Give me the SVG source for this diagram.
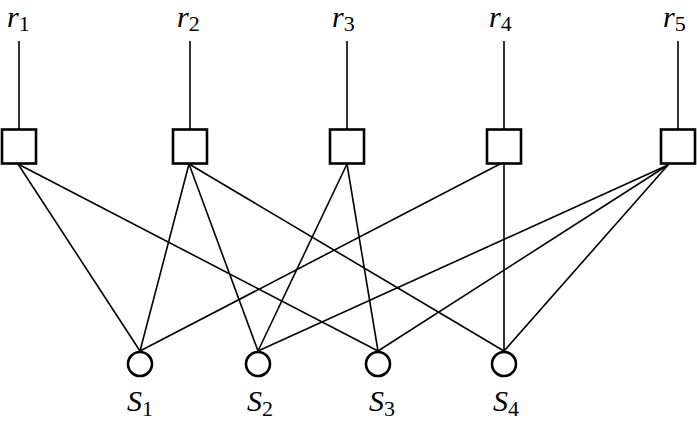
<svg xmlns="http://www.w3.org/2000/svg" width="697" height="423" viewBox="0 0 697 423">
<style>
.bg{fill:#fff}
.box{fill:#fff;stroke:#000;stroke-width:2.6}
.node{fill:#fff;stroke:#000;stroke-width:2.6}
.edge{stroke:#000;stroke-width:1.6;fill:none}
.lbl{font-family:"Liberation Serif","Times New Roman",serif;font-size:30px;fill:#000}
.v{font-style:italic}
.sub{font-size:22px}
</style>
<rect class="bg" x="0" y="0" width="697" height="423"/>
<g id="connectors">
<line class="edge" x1="19" y1="41" x2="19" y2="129"/>
<line class="edge" x1="190" y1="41" x2="190" y2="129"/>
<line class="edge" x1="347" y1="41" x2="347" y2="129"/>
<line class="edge" x1="504" y1="41" x2="504" y2="129"/>
<line class="edge" x1="678" y1="41" x2="678" y2="129"/>
<line class="edge" x1="18" y1="164" x2="140" y2="351"/>
<line class="edge" x1="18" y1="164" x2="378" y2="351"/>
<line class="edge" x1="189" y1="164" x2="140" y2="351"/>
<line class="edge" x1="189" y1="164" x2="258" y2="351"/>
<line class="edge" x1="189" y1="164" x2="504" y2="351"/>
<line class="edge" x1="347" y1="164" x2="258" y2="351"/>
<line class="edge" x1="347" y1="164" x2="378" y2="351"/>
<line class="edge" x1="500" y1="164" x2="140" y2="351"/>
<line class="edge" x1="504" y1="164" x2="504" y2="351"/>
<line class="edge" x1="668" y1="165" x2="258" y2="351"/>
<line class="edge" x1="668" y1="165" x2="378" y2="351"/>
<line class="edge" x1="668" y1="165" x2="504" y2="351"/>
</g>
<g id="r1"><rect class="box" x="2" y="129.5" width="34" height="34"/><text class="lbl" x="7" y="27"><tspan class="v">r</tspan><tspan class="sub" dy="4">1</tspan></text></g>
<g id="r2"><rect class="box" x="173" y="129.5" width="34" height="34"/><text class="lbl" x="177" y="27"><tspan class="v">r</tspan><tspan class="sub" dy="4">2</tspan></text></g>
<g id="r3"><rect class="box" x="330" y="129.5" width="34" height="34"/><text class="lbl" x="332" y="27"><tspan class="v">r</tspan><tspan class="sub" dy="4">3</tspan></text></g>
<g id="r4"><rect class="box" x="487" y="129.5" width="34" height="34"/><text class="lbl" x="489" y="27"><tspan class="v">r</tspan><tspan class="sub" dy="4">4</tspan></text></g>
<g id="r5"><rect class="box" x="661" y="129.5" width="34" height="34"/><text class="lbl" x="663" y="27"><tspan class="v">r</tspan><tspan class="sub" dy="4">5</tspan></text></g>
<g id="S1"><circle class="node" cx="140" cy="364" r="12"/><text class="lbl" x="127" y="411"><tspan class="v">S</tspan><tspan class="sub" dy="5">1</tspan></text></g>
<g id="S2"><circle class="node" cx="258" cy="364" r="12"/><text class="lbl" x="247" y="411"><tspan class="v">S</tspan><tspan class="sub" dy="5">2</tspan></text></g>
<g id="S3"><circle class="node" cx="378" cy="364" r="12"/><text class="lbl" x="369" y="411"><tspan class="v">S</tspan><tspan class="sub" dy="5">3</tspan></text></g>
<g id="S4"><circle class="node" cx="504" cy="364" r="12"/><text class="lbl" x="493" y="411"><tspan class="v">S</tspan><tspan class="sub" dy="5">4</tspan></text></g>
</svg>
